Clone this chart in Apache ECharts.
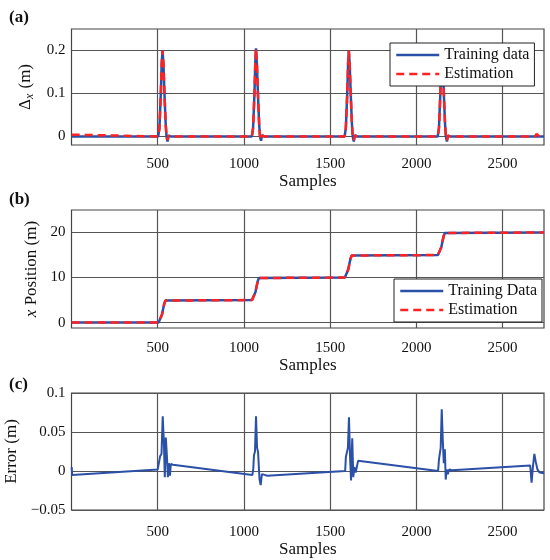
<!DOCTYPE html>
<html>
<head>
<meta charset="utf-8">
<script src="https://cdn.jsdelivr.net/npm/echarts@6/dist/echarts.min.js"></script>
<style>
  html, body { margin: 0; padding: 0; background: #fff; }
  #chart { width: 550px; height: 560px; }
</style>
</head>
<body>
<div id="chart"></div>
<script>
// (a) displacement per sample
var aTrainX = [1, 503, 510, 518, 523, 528, 533, 540, 546, 551, 557, 563, 575,
    1046, 1053, 1061, 1066, 1070, 1075, 1082, 1088, 1093, 1099, 1105, 1117,
    1584, 1591, 1599, 1604, 1608, 1613, 1620, 1626, 1631, 1637, 1643, 1655,
    2124, 2131, 2139, 2144, 2148, 2153, 2160, 2166, 2171, 2177, 2183, 2195, 2740];
var aTrainY = [0, 0, 0.02, 0.1, 0.17, 0.2, 0.17, 0.09, 0.03, 0, -0.012, 0.002, 0,
    0, 0.02, 0.1, 0.175, 0.205, 0.17, 0.09, 0.03, 0, -0.01, 0.003, 0,
    0, 0.02, 0.1, 0.17, 0.2, 0.17, 0.09, 0.03, 0, -0.012, 0.003, 0,
    0, 0.02, 0.1, 0.18, 0.21, 0.17, 0.09, 0.03, 0, -0.012, 0.002, 0, 0];
var aEstX = [1, 6, 503, 510, 518, 523, 528, 533, 540, 546, 551, 557, 563, 575,
    1046, 1053, 1061, 1066, 1070, 1075, 1082, 1088, 1093, 1099, 1105, 1117,
    1584, 1591, 1599, 1604, 1608, 1613, 1620, 1626, 1631, 1637, 1643, 1655,
    2124, 2131, 2139, 2144, 2148, 2153, 2160, 2166, 2171, 2177, 2183, 2195,
    2688, 2697, 2705, 2714, 2740];
var aEstY = [0.004, 0, 0, 0.02, 0.1, 0.17, 0.2, 0.17, 0.09, 0.03, 0, -0.008, 0.002, 0,
    0, 0.02, 0.1, 0.175, 0.205, 0.17, 0.09, 0.03, 0, -0.008, 0.002, 0,
    0, 0.02, 0.1, 0.17, 0.2, 0.17, 0.09, 0.03, 0, -0.009, 0.002, 0,
    0, 0.02, 0.1, 0.18, 0.21, 0.17, 0.09, 0.03, 0, -0.009, 0.002, 0,
    0, 0.006, 0.004, 0, 0];

// (b) position
var bX = [1, 505, 515, 525, 530, 538, 545, 552,
    1047, 1057, 1067, 1072, 1080, 1087, 1094,
    1585, 1595, 1605, 1610, 1618, 1625, 1632,
    2125, 2135, 2145, 2150, 2158, 2165, 2172, 2740];
var bTrainY = [0, 0, 0.4, 1.8, 2.8, 4.2, 4.9, 5,
    5, 5.4, 6.8, 7.8, 9.2, 9.9, 10,
    10, 10.4, 11.8, 12.8, 14.2, 14.9, 15,
    15, 15.4, 16.8, 17.8, 19.2, 19.9, 20, 20];
var bEstY = [0, 0, 0.4, 1.8, 2.8, 4.2, 4.9, 5,
    5, 5.4, 6.8, 7.8, 9.2, 9.9, 10,
    10, 10.4, 11.8, 12.8, 14.2, 14.9, 15,
    15, 15.4, 16.8, 17.8, 19.2, 19.9, 20, 20];

// (c) error
var cX = [1, 4, 8, 500, 510, 514, 522, 529, 536, 541, 547, 553, 559, 565, 571, 576, 588,
    1049, 1054, 1058, 1064, 1070, 1076, 1082, 1090, 1097, 1104, 1112, 1120, 1135,
    1587, 1591, 1597, 1603, 1609, 1615, 1621, 1628, 1634, 1640, 1648, 1662,
    2126, 2131, 2136, 2141, 2147, 2153, 2159, 2165, 2170, 2176, 2182, 2190, 2206,
    2660, 2668, 2676, 2684, 2692, 2702, 2715, 2740];
var cErr = [0.005, -0.005, -0.005, 0.002, 0.003, 0.019, 0.022, 0.07, 0.035, -0.008, 0.043, 0.02, -0.008, 0.01, -0.006, 0.009, 0.008,
    -0.005, 0.002, 0.02, 0.025, 0.07, 0.03, 0.024, -0.01, -0.018, -0.004, -0.006, -0.005, -0.006,
    0, 0.018, 0.02, 0.03, 0.069, 0.02, -0.012, 0.042, -0.008, 0.005, -0.002, 0.013,
    0, 0.015, 0.016, 0.03, 0.079, 0.04, 0.01, 0.028, -0.011, 0.002, -0.004, 0.002, 0.001,
    0.007, -0.015, 0.006, 0.022, 0.012, 0.002, -0.002, -0.003];

var xTicks = [500, 1000, 1500, 2000, 2500];
var aTicks = [0, 0.1, 0.2];
var bTicks = [0, 10, 20];
var cTicks = [-0.05, 0, 0.05, 0.1];

var font = "'Liberation Serif', 'Times New Roman', serif";
var blue = '#2b50a8', red = '#ff2222', gridCol = '#555';

var zip = function(xs, ys){
    var out = [];
    for (var i = 0; i < xs.length; i++) out.push([xs[i], ys[i]]);
    return out;
};

var makeX = function(idx, margin, gap){
    return {
        type: 'value', gridIndex: idx, min: 0, max: 2740,
        name: 'Samples', nameLocation: 'middle', nameGap: gap,
        nameTextStyle: { fontFamily: font, fontSize: 17, color: '#111' },
        axisLine: { show: false }, axisTick: { show: false, customValues: xTicks },
        axisLabel: { customValues: xTicks, margin: margin, fontFamily: font, fontSize: 15, color: '#111',
            formatter: function(v){ return String(v); } },
        splitLine: { show: true, lineStyle: { color: gridCol, width: 1.2 } }
    };
};
var makeY = function(idx, min, max, ticks, name, gap, rich){
    return {
        type: 'value', gridIndex: idx, min: min, max: max,
        name: name, nameLocation: 'middle', nameRotate: 90, nameGap: gap,
        nameTextStyle: { fontFamily: font, fontSize: 17, color: '#111', rich: rich },
        axisLine: { show: false }, axisTick: { show: false, customValues: ticks },
        axisLabel: { customValues: ticks, margin: 6, fontFamily: font, fontSize: 15, color: '#111',
            formatter: function(v){ return v < 0 ? '\u2212' + Math.abs(v) : String(v); } },
        splitLine: { show: true, lineStyle: { color: gridCol, width: 1.2 } }
    };
};

var line = function(name, xi, data, color, dashed){
    return {
        name: name, type: 'line', xAxisIndex: xi, yAxisIndex: xi,
        data: data, symbol: 'none', animation: false, z: dashed ? 3 : 2,
        lineStyle: { color: color, width: 2.5, type: dashed ? [8, 5] : 'solid' },
        itemStyle: { color: color }
    };
};

var legendBase = function(left, top, names){
    return {
        orient: 'vertical', left: left, top: top, data: names,
        itemWidth: 43, itemHeight: 14, itemGap: 3, itemStyle: { opacity: 0 },
        lineStyle: { width: 2.5 },
        backgroundColor: '#fff', borderColor: '#222', borderWidth: 1, borderRadius: 0,
        padding: [4, 5, 4, 5], selectedMode: false,
        textStyle: { fontFamily: font, fontSize: 16, color: '#111' }
    };
};

var gridBase = function(top, height){
    return { left: 71.5, top: top, width: 472.5, height: height, show: true,
        borderColor: '#444', borderWidth: 1.2, backgroundColor: 'transparent',
        outerBoundsMode: 'none', containLabel: false };
};

var myChart = echarts.init(document.getElementById('chart'));
var option = {
    backgroundColor: '#fff',
    animation: false,
    title: [
        { text: '(a)', left: 4, top: 4, textStyle: { fontFamily: font, fontSize: 17, fontWeight: 'bold', color: '#111' } },
        { text: '(b)', left: 4, top: 186, textStyle: { fontFamily: font, fontSize: 17, fontWeight: 'bold', color: '#111' } },
        { text: '(c)', left: 4, top: 371, textStyle: { fontFamily: font, fontSize: 17, fontWeight: 'bold', color: '#111' } }
    ],
    grid: [ gridBase(29, 116), gridBase(210, 118), gridBase(393, 117) ],
    xAxis: [ makeX(0, 12, 28), makeX(1, 13, 28), makeX(2, 15, 30) ],
    yAxis: [
        makeY(0, -0.02, 0.25, aTicks, '{d|\u0394}{s|x}{d| (m)}', 31,
            { d: { fontFamily: font, fontSize: 17 }, s: { fontFamily: font, fontSize: 12, fontStyle: 'italic', padding: [9, 1, 0, 0] } }),
        makeY(1, -1.2, 25, bTicks, '{i|x} Position (m)', 27,
            { i: { fontFamily: font, fontSize: 17, fontStyle: 'italic' } }),
        makeY(2, -0.05, 0.1, cTicks, 'Error (m)', 50, {})
    ],
    legend: [
        legendBase(390, 43, ['Training data', 'Estimation']),
        legendBase(394, 279, ['Training Data', 'Estimation'])
    ],
    series: [
        line('Training data', 0, zip(aTrainX, aTrainY), blue, false),
        line('Estimation', 0, zip(aEstX, aEstY), red, true),
        line('Training Data', 1, zip(bX, bTrainY), blue, false),
        line('Estimation', 1, zip(bX, bEstY), red, true),
        line('Error', 2, zip(cX, cErr), blue, false)
    ]
};
option.series[4].lineStyle.width = 2;
myChart.setOption(option);
</script>
</body>
</html>
